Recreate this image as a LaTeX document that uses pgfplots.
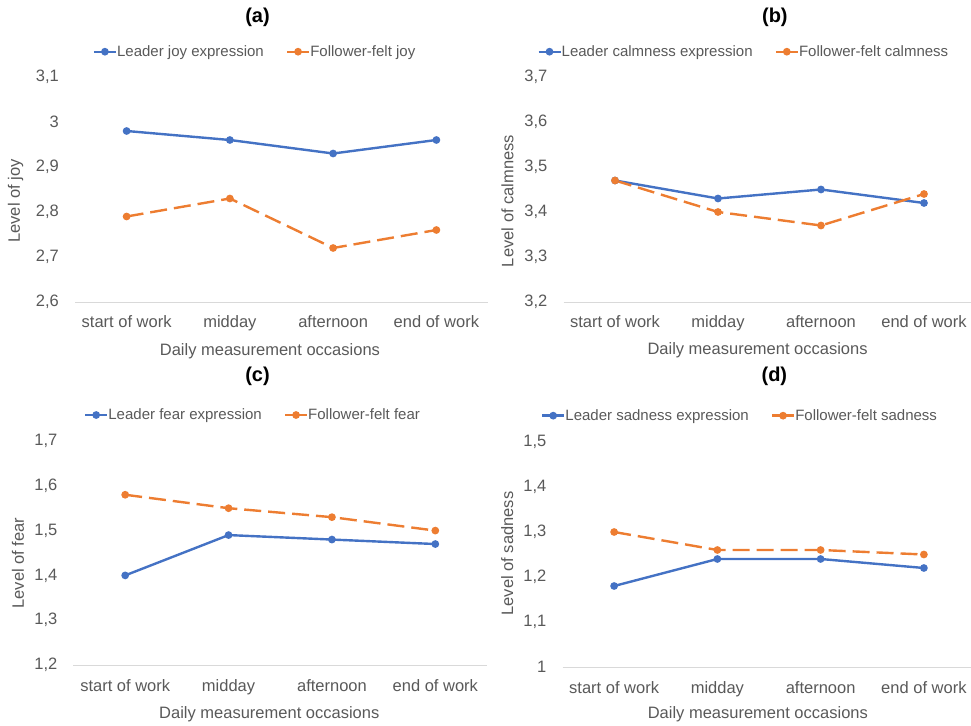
\documentclass[border=0pt]{standalone}
\usepackage{fontspec}
\setmainfont{Liberation Sans}
\usepackage{pgfplots}
\pgfplotsset{compat=1.18}
\definecolor{xblue}{HTML}{4472C4}
\definecolor{xorange}{HTML}{ED7D31}
\definecolor{xgray}{HTML}{595959}
\definecolor{xline}{HTML}{D9D9D9}
\pgfplotsset{
  panel/.style={
    scale only axis, width=413pt, height=225pt,
    anchor=south west, clip=false,
    xmin=-0.5, xmax=3.5,
    xtick={0,1,2,3},
    xticklabels={start of work, midday, afternoon, end of work},
    axis x line*=bottom, axis y line*=left,
    x axis line style={draw=xline, line width=0.8pt},
    y axis line style={draw=none},
    major tick length=0pt,
    tick style={draw=none},
    /pgf/number format/assume math mode=true,
    /pgf/number format/use comma,
    /pgf/number format/fixed,
    /pgf/number format/precision=1,
    tick label style={font=\fontsize{16.5}{19}\selectfont, text=xgray, inner sep=0pt},
    xticklabel style={anchor=base, yshift=-26pt},
    yticklabel style={anchor=east, xshift=-16pt},
    label style={font=\fontsize{16.5}{19}\selectfont, text=xgray, inner sep=0pt},
    xlabel style={anchor=base},
    ylabel style={anchor=center},
    title style={anchor=base, font=\bfseries\fontsize{20}{24}\selectfont, inner sep=0pt},
    xlabel={Daily measurement occasions},
    legend columns=2,
    legend style={draw=none, fill=none, anchor=west, inner sep=0pt, outer sep=0pt,
      font=\fontsize{15}{18}\selectfont, text=xgray,
      nodes={inner sep=0pt},
      /tikz/every even column/.append style={column sep=22pt}},
    legend image code/.code={\draw[mark repeat=2,mark phase=2,##1] plot coordinates {(0pt,0pt) (11pt,0pt) (22pt,0pt)};},
  },
  lead/.style={xblue, line width=2.4pt, mark=*, mark size=2.6pt, mark options={solid}},
  foll/.style={xorange, line width=2.4pt, dash pattern=on 17pt off 7pt, mark=*, mark size=2.6pt, mark options={solid},
    legend image code/.code={\draw[mark repeat=2,mark phase=2,##1, dash pattern=on 8pt off 6pt] plot coordinates {(0pt,0pt) (11pt,0pt) (22pt,0pt)};}},
}
\begin{document}
\begin{tikzpicture}
\path[use as bounding box] (0,0) rectangle (971pt,725pt);
% (a)
\begin{axis}[panel, at={(75pt,423pt)},
  ymin=2.6, ymax=3.1, ytick={2.6,2.7,2.8,2.9,3.0,3.1},
  title={(a)}, title style={at={(axis description cs:0.442,1.216)}},
  ylabel={Level of joy}, ylabel style={at={(axis description cs:-0.144,0.449)}},
  xlabel style={at={(axis description cs:0.472,-0.2356)}},
  legend style={at={(axis description cs:0.0429,1.1124)}}]
\addplot[lead] coordinates {(0,2.98) (1,2.96) (2,2.93) (3,2.96)};
\addlegendentry{Leader joy expression}
\addplot[foll] coordinates {(0,2.79) (1,2.83) (2,2.72) (3,2.76)};
\addlegendentry{Follower-felt joy}
\end{axis}
% (b)
\begin{axis}[panel, at={(563.5pt,423pt)}, width=412pt,
  ymin=3.2, ymax=3.7, ytick={3.2,3.3,3.4,3.5,3.6,3.7},
  title={(b)}, title style={at={(axis description cs:0.513,1.216)}},
  ylabel={Level of calmness}, ylabel style={at={(axis description cs:-0.136,0.449)}},
  xlabel style={at={(axis description cs:0.471,-0.232)}},
  legend style={at={(axis description cs:-0.0636,1.1124)}}]
\addplot[lead] coordinates {(0,3.47) (1,3.43) (2,3.45) (3,3.42)};
\addlegendentry{Leader calmness expression}
\addplot[foll] coordinates {(0,3.47) (1,3.40) (2,3.37) (3,3.44)};
\addlegendentry{Follower-felt calmness}
\end{axis}
% (c)
\begin{axis}[panel, at={(73.5pt,60pt)}, width=413.5pt, height=224pt,
  ymin=1.2, ymax=1.7, ytick={1.2,1.3,1.4,1.5,1.6,1.7},
  title={(c)}, title style={at={(axis description cs:0.445,1.238)}},
  ylabel={Level of fear}, ylabel style={at={(axis description cs:-0.134,0.455)}},
  xlabel style={at={(axis description cs:0.4735,-0.238)}},
  legend style={at={(axis description cs:0.0254,1.116)}}]
\addplot[lead] coordinates {(0,1.40) (1,1.49) (2,1.48) (3,1.47)};
\addlegendentry{Leader fear expression}
\addplot[foll] coordinates {(0,1.58) (1,1.55) (2,1.53) (3,1.50)};
\addlegendentry{Follower-felt fear}
\end{axis}
% (d)
\begin{axis}[panel, at={(562.5pt,58pt)},
  ymin=1.0, ymax=1.5, ytick={1.0,1.1,1.2,1.3,1.4,1.5},
  title={(d)}, title style={at={(axis description cs:0.513,1.241)}},
  ylabel={Level of sadness}, ylabel style={at={(axis description cs:-0.134,0.504)}},
  xlabel style={at={(axis description cs:0.473,-0.231)}},
  legend style={at={(axis description cs:-0.052,1.117)}}]
\addplot[lead] coordinates {(0,1.18) (1,1.24) (2,1.24) (3,1.22)};
\addlegendentry{Leader sadness expression}
\addplot[foll] coordinates {(0,1.30) (1,1.26) (2,1.26) (3,1.25)};
\addlegendentry{Follower-felt sadness}
\end{axis}
\end{tikzpicture}
\end{document}
